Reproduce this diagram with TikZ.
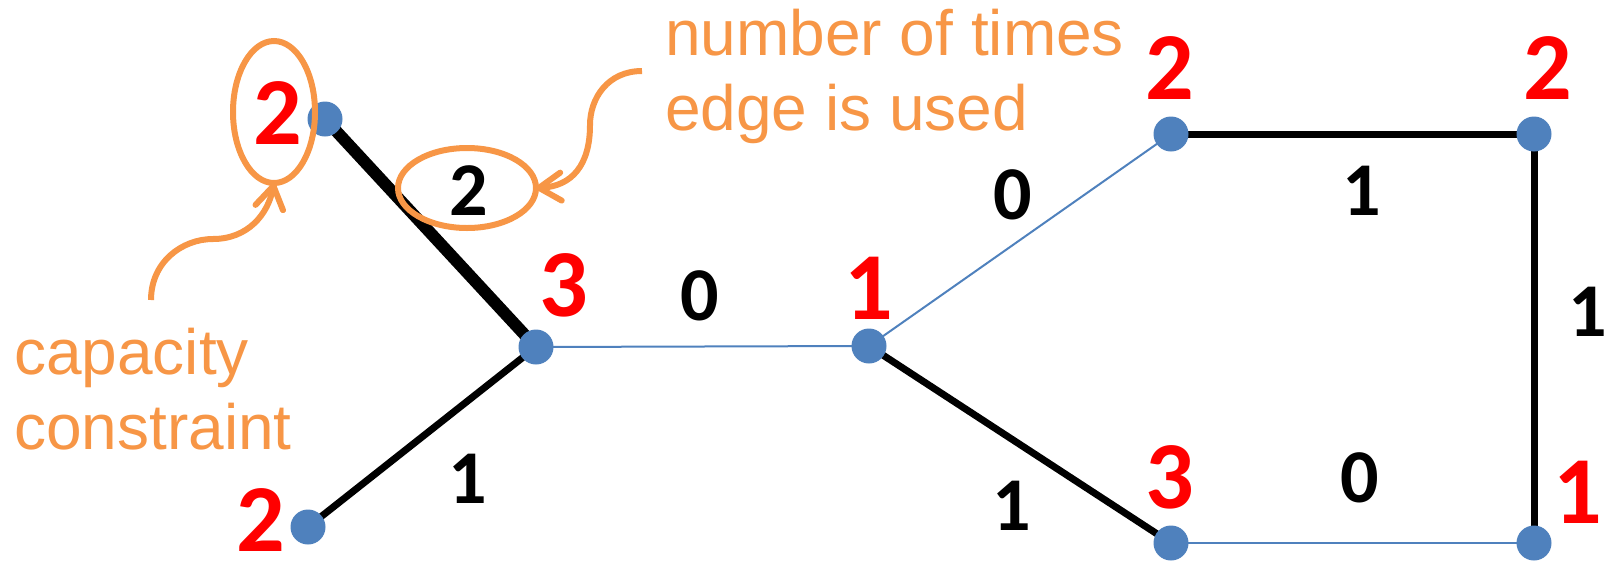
\documentclass[tikz,border=0pt]{standalone}
\usepackage{fontspec}
\setmainfont{Liberation Sans}
\newfontfamily\numfont{Carlito}
\usetikzlibrary{arrows.meta,backgrounds,shapes.geometric}
\definecolor{dotblue}{HTML}{4F81BD}
\definecolor{annor}{HTML}{F79646}
\definecolor{capred}{HTML}{FF0000}
\tikzset{
  vtx/.style={circle,fill=dotblue,minimum size=35pt,inner sep=0pt},
  capnum/.style={text=capred,font=\numfont\bfseries\fontsize{96}{96}\selectfont,inner sep=0pt},
  usenum/.style={text=black,font=\numfont\bfseries\fontsize{76}{76}\selectfont,inner sep=0pt},
  e0/.style={draw=dotblue,line width=2pt},
  e1/.style={draw=black,line width=7pt},
  e2/.style={draw=black,line width=12pt},
  note/.style={text=annor,font=\fontsize{64}{76}\selectfont,inner sep=0pt,anchor=base west},
  ring/.style={draw=annor,line width=6pt,ellipse,inner sep=0pt,outer sep=0pt},
  pointer/.style={draw=annor,line width=6pt,-{Straight Barb[length=22pt,width=28pt,round]}},
}
\begin{document}
\begin{tikzpicture}[x=1pt,y=-1pt]
\useasboundingbox (0,0) rectangle (1606,560);
% vertices
\node[vtx] (A) at (325,119) {};
\node[vtx] (B) at (536,347) {};
\node[vtx] (C) at (869,346) {};
\node[vtx] (D) at (308,527) {};
\node[vtx] (E) at (1171,134) {};
\node[vtx] (F) at (1534,134) {};
\node[vtx] (G) at (1171,543) {};
\node[vtx] (H) at (1534,543) {};
% edges
\begin{scope}[on background layer]
\draw[e2] (A.center) -- (B.center);
\draw[e0] (B.center) -- (C.center);
\draw[e1] (B.center) -- (D.center);
\draw[e0] (C.center) -- (E.center);
\draw[e1] (C.center) -- (G.center);
\draw[e1] (E.center) -- (F.center);
\draw[e1] (F.center) -- (H.center);
\draw[e0] (G.center) -- (H.center);
\end{scope}
% capacities
\node[capnum] (cA) at (278,113) {2};
\node[capnum] (cB) at (564,285) {3};
\node[capnum] (cC) at (869,288) {1};
\node[capnum] (cD) at (261,520) {2};
\node[capnum] (cE) at (1170,68) {2};
\node[capnum] (cF) at (1548,68) {2};
\node[capnum] (cG) at (1170,477) {3};
\node[capnum] (cH) at (1578,492) {1};
% usage
\node[usenum] (uAB) at (469,191) {2};
\node[usenum] (uBC) at (700,296) {0};
\node[usenum] (uCE) at (1013,195) {0};
\node[usenum] (uEF) at (1362,191) {1};
\node[usenum] (uFH) at (1588,312) {1};
\node[usenum] (uGH) at (1360,478) {0};
\node[usenum] (uCG) at (1012,506) {1};
\node[usenum] (uBD) at (468,479) {1};
% annotations
\node[ring,minimum width=82pt,minimum height=142pt] (capring) at (274,112) {};
\node[ring,minimum width=138pt,minimum height=80pt] (usering) at (467,188) {};
\node[note] (capt1) at (14,374) {capacity};
\node[note] (capt2) at (14,449) {constraint};
\node[note] (uset1) at (665,55) {number of times};
\node[note] (uset2) at (665,130) {edge is used};
\coordinate (capstart) at (151,300);
\coordinate (usestart) at (642,71);
\draw[pointer] (capstart) .. controls (151,262) and (182,239) .. (213,239)
  .. controls (248,239) and (268,214) .. (capring.south);
\draw[pointer] (usestart) .. controls (608,71) and (590,98) .. (590,125)
  .. controls (590,165) and (572,186) .. (usering.east);
\end{tikzpicture}
\end{document}
